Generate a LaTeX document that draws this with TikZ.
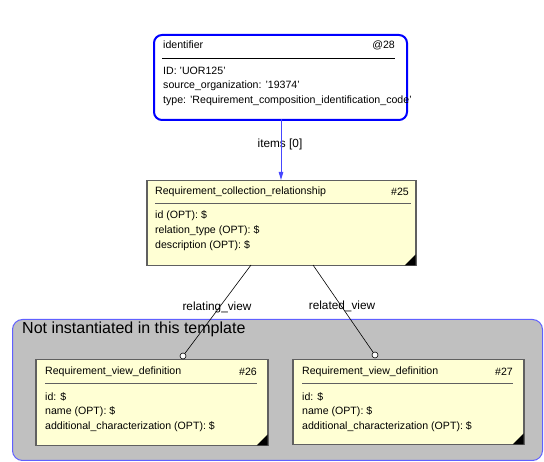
\documentclass[tikz,border=0pt]{standalone}
\usepackage{fontspec}
\setmainfont{Liberation Sans}
\usetikzlibrary{arrows.meta,calc}
\definecolor{boxfill}{RGB}{255,255,212}
\definecolor{boxline}{RGB}{96,96,96}
\definecolor{idblue}{RGB}{0,0,255}
\definecolor{arrblue}{RGB}{70,70,255}
\definecolor{grpfill}{RGB}{192,192,192}
\definecolor{grpline}{RGB}{96,96,255}
\tikzset{
  ent/.style={draw=boxline,line width=1.5pt,fill=boxfill,inner sep=0pt,anchor=north west},
  idbox/.style={draw=idblue,line width=2pt,fill=white,rounded corners=8pt,inner sep=0pt,anchor=north west},
  txt/.style={font=\fontsize{10.6}{12}\selectfont,inner sep=0pt,anchor=west},
  txtr/.style={font=\fontsize{10.6}{12}\selectfont,inner sep=0pt,anchor=east},
  lbl/.style={font=\fontsize{11.8}{14}\selectfont,inner sep=1pt},
  sep/.style={draw=boxline,line width=1pt},
  endc/.style={circle,draw=black,fill=white,line width=0.6pt,minimum size=6pt,inner sep=0pt},
}
\begin{document}
\begin{tikzpicture}[x=1pt,y=-1pt]
\useasboundingbox (0,0) rectangle (544,462);
% group
\node[draw=grpline,line width=1pt,fill=grpfill,rounded corners=10pt,minimum width=530pt,minimum height=141pt,inner sep=0pt,anchor=north west] (grp) at (12,319) {};
\node[font=\fontsize{16}{18}\selectfont,inner sep=0pt,anchor=west] (grpt) at (22,329) {Not instantiated in this template};
% identifier
\node[idbox,minimum width=253pt,minimum height=85pt] (id) at (153,34) {};
\node[txt] (idt) at (163,45) {identifier};
\node[txtr] (idn) at (395,45) {@28};
\draw[sep,draw=black] (162,59) -- (395,59);
\node[txt] (id1) at (163,71) {ID: 'UOR125'};
\node[txt] (id2) at (163,86) {source\_organization: '19374'};
\node[txt] (id3) at (163,101) {type: 'Requirement\_composition\_identification\_code'};
% collection relationship
\node[ent,minimum width=269pt,minimum height=85pt] (rcr) at (146,180) {};
\node[txt] (rcrt) at (155,192) {Requirement\_collection\_relationship};
\node[txtr] (rcrn) at (409,192) {\#25};
\draw[sep] (155,204) -- (411,204);
\node[txt] (rcr1) at (155,216) {id (OPT): \$};
\node[txt] (rcr2) at (155,231) {relation\_type (OPT): \$};
\node[txt] (rcr3) at (155,246) {description (OPT): \$};
\fill ($(rcr.south east)+(-12,-1)$) -- ($(rcr.south east)+(-1,-12)$) -- ($(rcr.south east)+(-1,-1)$) -- cycle;
% view 26
\node[ent,minimum width=232pt,minimum height=86pt] (v26) at (35,359) {};
\node[txt] (v26t) at (45,372) {Requirement\_view\_definition};
\node[txtr] (v26n) at (257,372) {\#26};
\draw[sep] (45,384) -- (257,384);
\node[txt] (v261) at (45,397) {id: \$};
\node[txt] (v262) at (45,412) {name (OPT): \$};
\node[txt] (v263) at (45,427) {additional\_characterization (OPT): \$};
\fill ($(v26.south east)+(-12,-1)$) -- ($(v26.south east)+(-1,-12)$) -- ($(v26.south east)+(-1,-1)$) -- cycle;
% view 27
\node[ent,minimum width=231pt,minimum height=85pt] (v27) at (292,359) {};
\node[txt] (v27t) at (302,372) {Requirement\_view\_definition};
\node[txtr] (v27n) at (513,372) {\#27};
\draw[sep] (302,384) -- (513,384);
\node[txt] (v271) at (302,397) {id: \$};
\node[txt] (v272) at (302,412) {name (OPT): \$};
\node[txt] (v273) at (302,427) {additional\_characterization (OPT): \$};
\fill ($(v27.south east)+(-12,-1)$) -- ($(v27.south east)+(-1,-12)$) -- ($(v27.south east)+(-1,-1)$) -- cycle;
% connectors
\coordinate (a1) at (281,119);
\coordinate (a2) at (281,180);
\node[lbl] (itl) at (280,144) {items [0]};
\draw[draw=arrblue,line width=0.9pt,-{Triangle[length=8pt,width=4.5pt]}] (a1) -- (a2);
\coordinate (r1) at (251,265);
\coordinate (r2) at (313,265);
\node[lbl] (rl1) at (217,307) {relating\_view};
\node[lbl] (rl2) at (342,306) {related\_view};
\node[endc] (c26) at (183,356) {};
\node[endc] (c27) at (375,355) {};
\draw[line width=0.6pt] (r1) -- (c26);
\draw[line width=0.6pt] (r2) -- (c27);
\end{tikzpicture}
\end{document}
